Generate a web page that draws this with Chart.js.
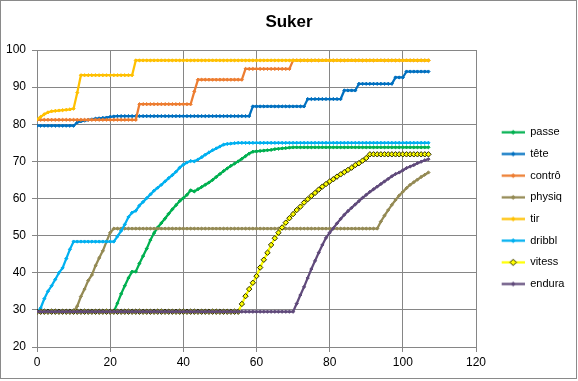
<!DOCTYPE html>
<html>
<head>
<meta charset="utf-8">
<script src="https://cdn.jsdelivr.net/npm/chart.js@4"></script>
<style>html,body{margin:0;padding:0;background:#fff;}canvas{display:block;}</style>
</head>
<body>
<canvas id="c" width="578" height="381"></canvas>
<script>
const chartTitle = 'Suker';
const seriesNames = ['passe', 'tête', 'contrô', 'physiq', 'tir', 'dribbl', 'vitess', 'endura'];
const xTicks = [0, 20, 40, 60, 80, 100, 120];
const yTicks = [20, 30, 40, 50, 60, 70, 80, 90, 100];

const days = [
  0,1,2,3,4,5,6,7,8,9,
  10,11,12,13,14,15,16,17,18,19,
  20,21,22,23,24,25,26,27,28,29,
  30,31,32,33,34,35,36,37,38,39,
  40,41,42,43,44,45,46,47,48,49,
  50,51,52,53,54,55,56,57,58,59,
  60,61,62,63,64,65,66,67,68,69,
  70,71,72,73,74,75,76,77,78,79,
  80,81,82,83,84,85,86,87,88,89,
  90,91,92,93,94,95,96,97,98,99,
  100,101,102,103,104,105,106,107
];

const passe = [
  29.5,29.5,29.5,29.5,29.5,29.5,29.5,29.5,29.5,29.5,
  29.5,29.5,29.5,29.5,29.5,29.5,29.5,29.5,29.5,29.5,
  29.5,29.5,31.8,34.3,36.5,38.6,40.3,40.3,42.5,44.5,
  46.5,48.8,50.7,52.2,53.4,54.6,55.9,57.1,58.2,59.3,
  60.1,61.0,62.2,61.9,62.5,63.1,63.7,64.3,65.0,65.8,
  66.6,67.4,68.1,68.8,69.4,70.0,70.7,71.4,72.1,72.6,
  72.7,72.8,72.9,73.0,73.1,73.3,73.4,73.5,73.6,73.7,
  73.8,73.8,73.8,73.8,73.8,73.8,73.8,73.8,73.8,73.8,
  73.8,73.8,73.8,73.8,73.8,73.8,73.8,73.8,73.8,73.8,
  73.8,73.8,73.8,73.8,73.8,73.8,73.8,73.8,73.8,73.8,
  73.8,73.8,73.8,73.8,73.8,73.8,73.8,73.8
];

const tete = [
  79.6,79.6,79.6,79.6,79.6,79.6,79.6,79.6,79.6,79.6,
  79.6,80.5,80.8,81.0,81.2,81.3,81.5,81.6,81.7,81.8,
  82.0,82.1,82.2,82.2,82.2,82.2,82.2,82.2,82.2,82.2,
  82.2,82.2,82.2,82.2,82.2,82.2,82.2,82.2,82.2,82.2,
  82.2,82.2,82.2,82.2,82.2,82.2,82.2,82.2,82.2,82.2,
  82.2,82.2,82.2,82.2,82.2,82.2,82.2,82.2,82.2,84.8,
  84.8,84.8,84.8,84.8,84.8,84.8,84.8,84.8,84.8,84.8,
  84.8,84.8,84.8,84.8,86.8,86.8,86.8,86.8,86.8,86.8,
  86.8,86.8,86.8,86.8,89.1,89.1,89.1,89.1,90.9,90.9,
  90.9,90.9,90.9,90.9,90.9,90.9,90.9,90.9,92.6,92.6,
  92.6,94.2,94.2,94.2,94.2,94.2,94.2,94.2
];

const contro = [
  81.2,81.2,81.2,81.2,81.2,81.2,81.2,81.2,81.2,81.2,
  81.2,81.2,81.2,81.2,81.2,81.2,81.2,81.2,81.2,81.2,
  81.2,81.2,81.2,81.2,81.2,81.2,81.2,81.2,85.4,85.4,
  85.4,85.4,85.4,85.4,85.4,85.4,85.4,85.4,85.4,85.4,
  85.4,85.4,85.4,88.8,92.0,92.0,92.0,92.0,92.0,92.0,
  92.0,92.0,92.0,92.0,92.0,92.0,92.0,94.9,94.9,94.9,
  94.9,94.9,94.9,94.9,94.9,94.9,94.9,94.9,94.9,94.9,
  97.2,97.2,97.2,97.2,97.2,97.2,97.2,97.2,97.2,97.2,
  97.2,97.2,97.2,97.2,97.2,97.2,97.2,97.2,97.2,97.2,
  97.2,97.2,97.2,97.2,97.2,97.2,97.2,97.2,97.2,97.2,
  97.2,97.2,97.2,97.2,97.2,97.2,97.2,97.2
];

const physiq = [
  29.5,29.5,29.5,29.5,29.5,29.5,29.5,29.5,29.5,29.5,
  29.5,31.0,33.6,35.6,37.9,39.4,41.9,44.0,45.9,48.4,
  50.8,51.9,51.9,51.9,51.9,51.9,51.9,51.9,51.9,51.9,
  51.9,51.9,51.9,51.9,51.9,51.9,51.9,51.9,51.9,51.9,
  51.9,51.9,51.9,51.9,51.9,51.9,51.9,51.9,51.9,51.9,
  51.9,51.9,51.9,51.9,51.9,51.9,51.9,51.9,51.9,51.9,
  51.9,51.9,51.9,51.9,51.9,51.9,51.9,51.9,51.9,51.9,
  51.9,51.9,51.9,51.9,51.9,51.9,51.9,51.9,51.9,51.9,
  51.9,51.9,51.9,51.9,51.9,51.9,51.9,51.9,51.9,51.9,
  51.9,51.9,51.9,51.9,53.8,55.4,56.9,58.3,59.6,60.8,
  61.8,62.8,63.7,64.4,65.1,65.8,66.4,67.0
];

const tir = [
  81.3,82.0,82.7,83.2,83.5,83.6,83.7,83.8,83.9,84.0,
  84.2,88.5,93.2,93.2,93.2,93.2,93.2,93.2,93.2,93.2,
  93.2,93.2,93.2,93.2,93.2,93.2,93.2,97.2,97.2,97.2,
  97.2,97.2,97.2,97.2,97.2,97.2,97.2,97.2,97.2,97.2,
  97.2,97.2,97.2,97.2,97.2,97.2,97.2,97.2,97.2,97.2,
  97.2,97.2,97.2,97.2,97.2,97.2,97.2,97.2,97.2,97.2,
  97.2,97.2,97.2,97.2,97.2,97.2,97.2,97.2,97.2,97.2,
  97.2,97.2,97.2,97.2,97.2,97.2,97.2,97.2,97.2,97.2,
  97.2,97.2,97.2,97.2,97.2,97.2,97.2,97.2,97.2,97.2,
  97.2,97.2,97.2,97.2,97.2,97.2,97.2,97.2,97.2,97.2,
  97.2,97.2,97.2,97.2,97.2,97.2,97.2,97.2
];

const dribbl = [
  29.5,30.5,33.0,35.0,36.5,38.2,40.0,41.3,43.8,46.3,
  48.4,48.4,48.4,48.4,48.4,48.4,48.4,48.4,48.4,48.4,
  48.4,48.4,49.8,51.3,53.0,55.0,56.2,56.7,58.1,59.1,
  60.1,61.1,62.1,62.9,63.7,64.6,65.5,66.3,67.2,68.3,
  69.1,69.7,70.1,70.0,70.5,71.1,71.8,72.4,73.0,73.5,
  74.0,74.5,74.7,74.8,74.9,75.0,75.0,75.0,75.0,75.0,
  75.0,75.0,75.0,75.0,75.0,75.0,75.0,75.0,75.0,75.0,
  75.0,75.0,75.0,75.0,75.0,75.0,75.0,75.0,75.0,75.0,
  75.0,75.0,75.0,75.0,75.0,75.0,75.0,75.0,75.0,75.0,
  75.0,75.0,75.0,75.0,75.0,75.0,75.0,75.0,75.0,75.0,
  75.0,75.0,75.0,75.0,75.0,75.0,75.0,75.0
];

const vitess = [
  29.5,29.5,29.5,29.5,29.5,29.5,29.5,29.5,29.5,29.5,
  29.5,29.5,29.5,29.5,29.5,29.5,29.5,29.5,29.5,29.5,
  29.5,29.5,29.5,29.5,29.5,29.5,29.5,29.5,29.5,29.5,
  29.5,29.5,29.5,29.5,29.5,29.5,29.5,29.5,29.5,29.5,
  29.5,29.5,29.5,29.5,29.5,29.5,29.5,29.5,29.5,29.5,
  29.5,29.5,29.5,29.5,29.5,29.5,31.6,33.7,35.6,37.3,
  39.1,41.4,43.5,45.4,47.5,49.3,50.8,52.2,53.5,54.7,
  55.8,56.9,57.8,58.9,59.8,60.7,61.5,62.4,63.2,63.9,
  64.6,65.2,65.9,66.5,67.1,67.7,68.3,69.0,69.5,70.2,
  70.9,71.9,71.9,71.9,71.9,71.9,71.9,71.9,71.9,71.9,
  71.9,71.9,71.9,71.9,71.9,71.9,71.9,71.9
];

const endura = [
  29.5,29.5,29.5,29.5,29.5,29.5,29.5,29.5,29.5,29.5,
  29.5,29.5,29.5,29.5,29.5,29.5,29.5,29.5,29.5,29.5,
  29.5,29.5,29.5,29.5,29.5,29.5,29.5,29.5,29.5,29.5,
  29.5,29.5,29.5,29.5,29.5,29.5,29.5,29.5,29.5,29.5,
  29.5,29.5,29.5,29.5,29.5,29.5,29.5,29.5,29.5,29.5,
  29.5,29.5,29.5,29.5,29.5,29.5,29.5,29.5,29.5,29.5,
  29.5,29.5,29.5,29.5,29.5,29.5,29.5,29.5,29.5,29.5,
  29.5,31.7,34.0,36.2,38.6,41.0,43.2,45.4,47.5,49.4,
  50.8,52.0,53.3,54.5,55.6,56.6,57.5,58.4,59.3,60.2,
  61.0,61.8,62.5,63.2,63.9,64.6,65.3,66.0,66.6,67.0,
  67.6,68.2,68.6,69.0,69.5,69.9,70.3,70.6
];

const seriesValues = [passe, tete, contro, physiq, tir, dribbl, vitess, endura];

// styles
const seriesColors = ['#00B050', '#0070C0', '#ED7D31', '#948A54', '#FFC000', '#00B0F0', '#FFFF00', '#604A7B'];
const gridColor = '#868686';
const FONT = '"Liberation Sans", Arial, sans-serif';
Chart.defaults.font.family = FONT;
Chart.defaults.color = '#000';

function markerStyle(i) {
  if (seriesNames[i] === 'vitess') {
    return { r: 2.7, fill: '#FFFF00', stroke: '#2b2b00' };
  }
  return { r: 1.6, fill: seriesColors[i], stroke: seriesColors[i] };
}

const ICON_W = 38, ICON_H = 11, LINE_LEN = 23;
function legendIcon(i) {
  const c = document.createElement('canvas');
  c.width = ICON_W; c.height = ICON_H;
  const g = c.getContext('2d');
  g.strokeStyle = seriesColors[i];
  g.lineWidth = 2.25;
  g.beginPath();
  g.moveTo(ICON_W - LINE_LEN, ICON_H / 2);
  g.lineTo(ICON_W, ICON_H / 2);
  g.stroke();
  const m = markerStyle(i);
  const cx = ICON_W - LINE_LEN / 2, cy = ICON_H / 2, r = m.r + 0.5;
  g.beginPath();
  g.moveTo(cx, cy - r); g.lineTo(cx + r, cy); g.lineTo(cx, cy + r); g.lineTo(cx - r, cy);
  g.closePath();
  g.fillStyle = m.fill; g.fill();
  g.strokeStyle = m.stroke; g.lineWidth = 1; g.stroke();
  return c;
}
const icons = seriesNames.map((_, i) => legendIcon(i));

const datasets = seriesNames.map((name, i) => {
  const m = markerStyle(i);
  return {
    label: name,
    data: days.map((d, k) => ({ x: d, y: seriesValues[i][k] })),
    borderColor: seriesColors[i],
    backgroundColor: m.fill,
    borderWidth: 2.25,
    tension: 0,
    pointStyle: 'rectRot',
    pointRadius: m.r,
    pointBorderWidth: 1,
    pointBackgroundColor: m.fill,
    pointBorderColor: m.stroke,
    order: seriesNames.length - 1 - i
  };
});

const frame = {
  id: 'frame',
  beforeDraw(chart) {
    const c = chart.ctx;
    c.save();
    c.fillStyle = '#fff';
    c.fillRect(0, 0, chart.width, chart.height);
    c.strokeStyle = '#8a8a8a';
    c.lineWidth = 1;
    c.strokeRect(0.5, 0.5, 576, 378);
    c.restore();
  }
};

const legendWidth = {
  id: 'legendWidth',
  beforeUpdate(chart) {
    const lg = chart.legend;
    if (lg && !lg._fixedFit) {
      const f = lg.fit;
      lg.fit = function () { f.call(this); this.width = 102; };
      lg._fixedFit = true;
    }
  }
};

const axisCommon = {
  grid: { color: gridColor, lineWidth: 1, tickLength: 5, tickColor: gridColor, drawTicks: true },
  border: { color: gridColor, width: 1 }
};

new Chart(document.getElementById('c'), {
  type: 'line',
  data: { datasets },
  plugins: [frame, legendWidth],
  options: {
    responsive: false,
    animation: false,
    events: [],
    layout: { padding: 0 },
    plugins: {
      title: {
        display: true,
        text: chartTitle,
        color: '#000',
        font: { size: 17, weight: 'bold', family: FONT },
        padding: { top: 11.8, bottom: 17.8 }
      },
      legend: {
        position: 'right',
        title: { display: true, text: ' ', font: { size: 10, lineHeight: 1 }, padding: { top: 25.3, bottom: 0 } },
        labels: {
          usePointStyle: true,
          pointStyleWidth: ICON_W,
          padding: 10.67,
          color: '#000',
          font: { size: 11, family: FONT },
          sort: (a, b) => a.datasetIndex - b.datasetIndex,
          generateLabels(chart) {
            const items = Chart.defaults.plugins.legend.labels.generateLabels(chart);
            items.forEach(it => { it.pointStyle = icons[it.datasetIndex]; });
            return items;
          }
        }
      },
      tooltip: { enabled: false }
    },
    scales: {
      x: {
        type: 'linear',
        min: xTicks[0],
        max: xTicks[xTicks.length - 1],
        afterBuildTicks(s) { s.ticks = xTicks.map(v => ({ value: v })); },
        ticks: { padding: 3, color: '#000', font: { size: 12 } },
        afterFit(s) { s.height = 34; },
        ...axisCommon
      },
      y: {
        type: 'linear',
        min: yTicks[0],
        max: yTicks[yTicks.length - 1],
        afterBuildTicks(s) { s.ticks = yTicks.map(v => ({ value: v })); },
        ticks: { padding: 6, color: '#000', font: { size: 12 } },
        afterFit(s) { s.width = 37; },
        ...axisCommon
      }
    }
  }
});
</script>
</body>
</html>
